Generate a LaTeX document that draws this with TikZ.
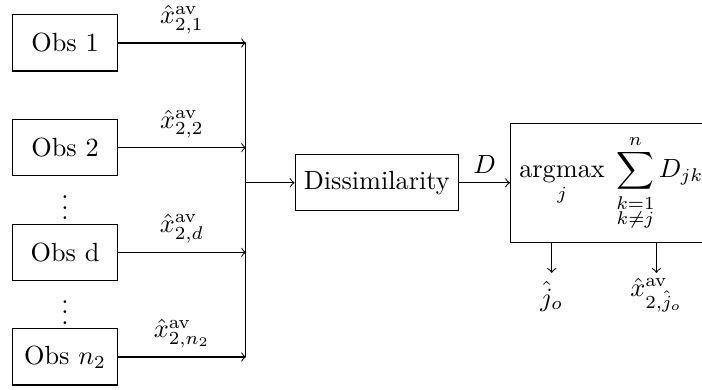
\documentclass[tikz,border=0pt]{standalone}
\usepackage{amsmath, amssymb}
\usetikzlibrary{positioning, calc}

\begin{document}
\begin{tikzpicture}[
  obsbox/.style={draw, minimum width=1.4cm, minimum height=0.75cm},
  blkbox/.style={draw, minimum height=0.75cm},
  >=to
]
  \useasboundingbox (-0.87,0.575) rectangle (8.52,-4.63);

  % observers
  \node[obsbox] (obs1) at (0,0) {Obs 1};
  \node[obsbox] (obs2) at (0,-1.4) {Obs 2};
  \node[obsbox] (obsd) at (0,-2.8) {Obs d};
  \node[obsbox] (obsn) at (0,-4.2) {Obs $n_2$};
  \node (dotsa) at ($(obs2)!0.5!(obsd)$) {$\vdots$};
  \node (dotsb) at ($(obsd)!0.5!(obsn)$) {$\vdots$};

  % collecting line
  \coordinate (bustop) at (2.42,0);
  \coordinate (busbot) at (2.42,-4.2);
  \coordinate (busmid) at (2.42,-1.87);
  \draw (bustop) -- (busbot);
  \draw[->] (obs1) -- node[above] {$\hat{x}_{2,1}^{\mathrm{av}}$} (obs1 -| bustop);
  \draw[->] (obs2) -- node[above] {$\hat{x}_{2,2}^{\mathrm{av}}$} (obs2 -| bustop);
  \draw[->] (obsd) -- node[above] {$\hat{x}_{2,d}^{\mathrm{av}}$} (obsd -| bustop);
  \draw[->] (obsn) -- node[above] {$\hat{x}_{2,n_2}^{\mathrm{av}}$} (obsn -| bustop);

  % dissimilarity and selection
  \node[blkbox, right=0.65cm of busmid] (diss) {Dissimilarity};
  \node[blkbox, minimum height=1.59cm, right=0.68cm of diss] (sel) {$\displaystyle \operatorname*{argmax}_{j}\;\sum_{\substack{k=1\\ k\neq j}}^{n} D_{jk}$};
  \draw[->] (busmid) -- (diss);
  \draw[->] (diss) -- node[above] {$D$} (sel);

  % outputs
  \node (jo) at (6.51,-3.39) {$\hat{j}_o$};
  \node (xo) at (7.91,-3.37) {$\hat{x}_{2,\hat{j}_o}^{\mathrm{av}}$};
  \coordinate (outend) at (0,-3.075);
  \draw[->] (sel.south -| jo) -- (outend -| jo);
  \draw[->] (sel.south -| xo) -- (outend -| xo);
\end{tikzpicture}
\end{document}
